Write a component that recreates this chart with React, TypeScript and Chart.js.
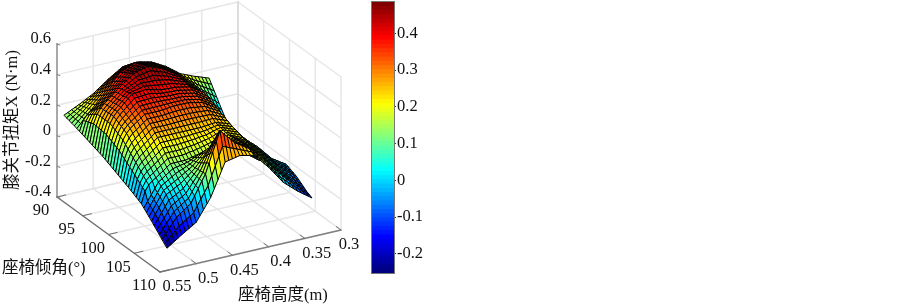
import React, { useEffect, useRef } from "react";
import { Chart, registerables } from "chart.js";

Chart.register(...registerables);

const tiltTicks = [90, 95, 100, 105, 110];
const heightTicks = [0.55, 0.5, 0.45, 0.4, 0.35, 0.3];
const torqueTicks = [-0.4, -0.2, 0, 0.2, 0.4, 0.6];
const colorbarTicks = [-0.2, -0.1, 0, 0.1, 0.2, 0.3, 0.4];
const colorMin = -0.252;
const colorMax = 0.485;
const tiltFirst = 90;
const tiltStep = 0.5;
const heightFirst = 0.54;
const heightStep = -0.005;

// Knee torque X, in thousandths of N·m: one row per seat tilt, one column per seat height.
const torqueRows = [
[125,136,148,159,170,182,195,208,220,238,255,272,290,305,320,335,350,352,355,358,360,355,350,345,340,328,315,302,290,272,255,238,220,210,200,190,180,172,164,155,147],
[120,134,148,162,176,191,206,221,236,255,274,293,312,326,340,354,368,369,370,371,372,365,358,351,344,330,317,303,290,272,253,235,216,202,189,175,162,151,140,129,118],
[115,132,148,165,182,200,217,234,252,272,293,314,334,347,360,373,386,386,385,384,384,375,366,357,348,334,319,304,290,270,251,232,212,195,178,161,144,130,116,102,88],
[110,130,149,168,188,208,228,248,268,290,312,334,356,368,380,392,404,402,400,398,396,385,374,363,352,336,320,305,290,270,249,228,208,188,167,146,126,109,92,76,59],
[105,127,150,172,194,216,239,262,284,308,331,354,378,389,400,411,422,418,415,412,408,395,382,369,356,340,323,306,290,268,246,225,204,180,156,132,108,88,68,49,29],
[100,125,150,175,200,225,250,275,300,325,350,375,400,410,420,430,440,435,430,425,420,405,390,375,360,342,325,308,290,268,245,222,200,172,145,118,90,68,45,22,0],
[94,157,188,207,220,244,268,292,316,340,363,386,410,420,429,438,448,442,436,430,424,409,394,379,364,344,325,306,286,258,231,204,176,148,119,90,62,40,18,-5,-28],
[88,164,202,225,240,263,286,309,332,354,376,398,420,429,438,447,456,449,442,435,428,413,398,383,368,346,325,304,282,250,217,184,152,122,93,64,34,12,-11,-34,-56],
[82,171,216,242,260,282,304,326,348,368,389,410,430,438,447,456,464,456,448,440,432,417,402,387,372,348,325,302,278,240,203,166,128,98,67,36,6,-16,-39,-62,-84],
[76,178,229,260,280,301,322,343,364,383,402,421,440,448,456,464,472,463,454,445,436,421,406,391,376,350,325,300,274,232,189,146,104,72,40,9,-22,-44,-67,-90,-112],
[70,185,242,277,300,320,340,360,380,398,415,432,450,458,465,472,480,470,460,450,440,425,410,395,380,352,325,298,270,222,175,128,80,48,15,-18,-50,-72,-95,-118,-140],
[64,183,242,278,302,322,343,364,384,398,413,428,442,447,452,456,461,453,444,436,428,415,402,389,376,351,326,301,276,226,175,124,74,42,9,-24,-56,-78,-99,-120,-142],
[58,181,242,279,304,325,346,367,388,400,411,422,434,436,438,440,442,436,429,422,416,405,394,383,372,350,327,304,282,228,175,122,68,36,3,-30,-62,-82,-103,-124,-144],
[52,179,242,281,306,328,349,370,392,400,409,418,426,425,424,424,423,418,414,409,404,395,386,377,368,348,328,308,288,232,175,118,62,30,-3,-36,-68,-88,-107,-126,-146],
[46,177,242,282,308,330,352,374,396,402,407,412,418,414,411,408,404,401,398,395,392,385,378,371,364,346,329,312,294,234,175,116,56,24,-9,-42,-74,-92,-111,-130,-148],
[40,175,242,283,310,332,355,378,400,402,405,408,410,404,398,391,385,384,382,381,380,375,370,365,360,345,330,315,300,238,175,112,50,18,-15,-48,-80,-98,-115,-132,-150],
[32,166,233,273,300,322,343,364,386,388,390,392,394,390,385,380,376,375,374,373,372,367,362,357,352,337,322,307,292,230,169,108,46,14,-17,-48,-80,-96,-113,-130,-146],
[24,157,224,263,290,310,331,352,372,374,375,376,378,375,372,370,367,366,366,365,364,359,354,349,344,329,314,299,284,224,163,102,42,12,-19,-50,-80,-96,-111,-126,-142],
[16,148,214,254,280,300,320,339,358,359,360,361,362,361,360,359,358,358,357,356,356,351,346,341,336,321,306,291,276,216,157,98,38,8,-20,-50,-80,-94,-109,-124,-138],
[8,139,204,244,270,288,307,326,344,345,345,346,346,347,348,348,349,349,348,348,348,343,338,333,328,313,298,283,268,210,151,92,34,6,-23,-52,-80,-94,-107,-120,-134],
[0,130,195,234,260,278,295,312,330,330,330,330,330,332,335,338,340,340,340,340,340,335,330,325,320,305,290,275,260,202,145,88,30,2,-25,-52,-80,-92,-105,-118,-130],
[-8,116,178,215,240,258,276,294,312,312,312,312,312,314,316,318,320,320,320,320,320,316,313,310,306,292,279,266,252,198,143,88,34,6,-22,-49,-76,-88,-99,-110,-122],
[-16,102,161,196,220,238,257,276,294,294,294,294,294,296,297,298,300,300,300,300,300,298,296,294,292,280,268,256,244,192,141,90,38,10,-17,-44,-72,-82,-93,-104,-114],
[-24,88,144,178,200,219,238,257,276,276,276,276,276,277,278,279,280,280,280,280,280,280,279,278,278,268,257,246,236,188,139,90,42,14,-13,-40,-68,-78,-87,-96,-106],
[-32,74,127,159,180,200,219,238,258,258,258,258,258,258,259,260,260,260,260,260,260,261,262,263,264,255,246,237,228,182,137,92,46,18,-9,-36,-64,-72,-81,-90,-98],
[-40,60,110,140,160,180,200,220,240,240,240,240,240,240,240,240,240,240,240,240,240,242,245,248,250,242,235,228,220,178,135,92,50,22,-5,-32,-60,-68,-75,-82,-90],
[-49,46,93,121,140,160,179,198,218,218,218,218,218,219,220,221,222,224,225,226,228,232,237,242,246,238,230,222,214,176,138,100,62,35,8,-19,-46,-55,-64,-73,-82],
[-58,31,76,102,120,139,158,177,196,196,196,196,196,198,200,202,204,207,210,213,216,222,229,236,242,234,225,216,208,174,141,108,74,48,21,-5,-32,-42,-53,-64,-74],
[-67,16,58,83,100,118,137,156,174,174,174,174,174,177,180,183,186,190,195,200,204,212,221,230,238,229,220,211,202,173,144,115,86,60,34,8,-18,-30,-42,-54,-66],
[-76,2,41,64,80,98,116,134,152,152,152,152,152,156,160,164,168,174,180,186,192,202,213,224,234,224,215,206,196,172,147,122,98,72,47,22,-4,-18,-31,-44,-58],
[-85,-12,24,46,60,78,95,112,130,130,130,130,130,135,140,145,150,158,165,172,180,192,205,218,230,220,210,200,190,170,150,130,110,85,60,35,10,-5,-20,-35,-50],
[-101,-64,-28,8,45,61,78,94,110,115,120,125,130,140,151,162,172,179,186,193,200,208,216,224,232,220,208,197,185,164,144,123,102,78,54,29,5,-10,-26,-42,-57],
[-118,-81,-44,-7,30,45,60,75,90,100,110,120,130,146,162,179,195,201,208,214,220,224,228,231,235,221,208,194,180,159,138,116,95,71,48,24,0,-16,-32,-49,-65],
[-134,-97,-60,-22,15,29,42,56,70,85,100,115,130,152,174,196,218,224,229,234,240,240,239,238,238,222,206,191,175,153,132,110,88,65,41,18,-5,-22,-39,-55,-72],
[-150,-112,-75,-38,0,12,25,38,50,70,90,110,130,158,185,212,240,245,250,255,260,255,250,245,240,222,205,188,170,148,125,102,80,58,35,12,-10,-28,-45,-62,-80],
[-168,-132,-96,-61,-25,-11,2,16,30,56,82,107,133,170,206,243,280,278,275,272,270,262,255,248,240,221,202,184,165,141,118,94,70,48,25,2,-20,-38,-56,-74,-92],
[-185,-151,-118,-84,-50,-35,-20,-5,10,41,72,104,135,181,228,274,320,310,300,290,280,270,260,250,240,220,200,180,160,135,110,85,60,38,15,-8,-30,-49,-68,-86,-105],
[-202,-170,-138,-107,-75,-59,-42,-26,-10,27,64,101,138,194,249,304,360,342,325,308,290,278,265,252,240,219,198,176,155,129,102,76,50,28,5,-18,-40,-60,-79,-98,-118],
[-220,-190,-160,-130,-100,-82,-65,-48,-30,12,55,98,140,205,270,335,400,375,350,325,300,285,270,255,240,218,195,172,150,122,95,68,40,18,-5,-28,-50,-70,-90,-110,-130],
[-237,-214,-191,-168,-145,-129,-112,-96,-80,-41,-2,36,75,134,192,251,310,300,290,280,270,260,250,240,230,206,182,159,135,106,78,49,20,-1,-22,-44,-65,-83,-102,-120,-138],
[-254,-238,-222,-206,-190,-175,-160,-145,-130,-95,-60,-25,10,62,115,168,220,225,230,235,240,235,230,225,220,195,170,145,120,90,60,30,0,-20,-40,-60,-80,-97,-114,-130,-147],
];

const FONT = '"Liberation Serif", "Noto Sans CJK SC", serif';

function projX(t: number, h: number) {
  return 57 + (103 * (t - 90)) / 20 + (181 * (0.55 - h)) / 0.25;
}
function projY(t: number, h: number, z: number) {
  return 197 + (75 * (t - 90)) / 20 - (42 * (0.55 - h)) / 0.25 - 153 * (z + 0.4);
}

function jet(f: number) {
  const c = (v: number) => Math.round(255 * Math.max(0, Math.min(1, v)));
  const x = Math.max(0, Math.min(63, Math.floor(f * 64))) / 63;
  const r = 1.5 - Math.abs(4 * x - 3);
  const g = 1.5 - Math.abs(4 * x - 2);
  const b = 1.5 - Math.abs(4 * x - 1);
  return `rgb(${c(r)},${c(g)},${c(b)})`;
}

const nodes = torqueRows.flatMap((row, i) =>
  row.map((z, j) => {
    const t = tiltFirst + i * tiltStep;
    const h = heightFirst + j * heightStep;
    return { x: projX(t, h), y: projY(t, h, z / 1000) };
  })
);

const surfacePlugin = {
  id: "surface3d",
  beforeDatasetsDraw(chart: any) {
    const { ctx, scales } = chart;
    const X = (t: number, h: number) => scales.x.getPixelForValue(projX(t, h));
    const Y = (t: number, h: number, z: number) => scales.y.getPixelForValue(projY(t, h, z));
    const seg = (a: number[], b: number[], color: string, w: number) => {
      ctx.strokeStyle = color;
      ctx.lineWidth = w;
      ctx.beginPath();
      ctx.moveTo(X(a[0], a[1]), Y(a[0], a[1], a[2]));
      ctx.lineTo(X(b[0], b[1]), Y(b[0], b[1], b[2]));
      ctx.stroke();
    };
    const tMin = tiltTicks[0], tMax = tiltTicks[tiltTicks.length - 1];
    const hNear = heightTicks[0], hFar = heightTicks[heightTicks.length - 1];
    const zMin = torqueTicks[0], zMax = torqueTicks[torqueTicks.length - 1];
    ctx.save();
    ctx.lineCap = "round";
    const grid = "#e6e6e6";
    for (const z of torqueTicks) {
      seg([tMin, hNear, z], [tMin, hFar, z], grid, 1.4);
      seg([tMin, hFar, z], [tMax, hFar, z], grid, 1.4);
    }
    for (const h of heightTicks) {
      seg([tMin, h, zMin], [tMin, h, zMax], grid, 1.4);
      seg([tMin, h, zMin], [tMax, h, zMin], grid, 1.4);
    }
    for (const t of tiltTicks) {
      seg([t, hFar, zMin], [t, hFar, zMax], grid, 1.4);
      seg([t, hNear, zMin], [t, hFar, zMin], grid, 1.4);
    }
    seg([tMin, hFar, zMin], [tMin, hFar, zMax], "#dddddd", 2);

    // axes
    seg([tMin, hNear, zMin], [tMin, hNear, zMax], "#a8a8a8", 2);
    seg([tMin, hNear, zMin], [tMax, hNear, zMin], "#707070", 1.4);
    seg([tMax, hNear, zMin], [tMax, hFar, zMin], "#808080", 1.4);
    for (const z of torqueTicks) {
      const px = X(tMin, hNear), py = Y(tMin, hNear, z);
      ctx.strokeStyle = "#808080"; ctx.lineWidth = 1;
      ctx.beginPath(); ctx.moveTo(px, py); ctx.lineTo(px + 3, py + 1); ctx.stroke();
    }
    for (const t of tiltTicks) seg([t, hNear, zMin], [t, hNear - 0.012, zMin], "#707070", 1);
    for (const h of heightTicks) seg([tMax, h, zMin], [tMax - 0.9, h, zMin], "#707070", 1);

    // surface, far cells first
    const pts = chart.getDatasetMeta(0).data;
    const rows = torqueRows.length, cols = torqueRows[0].length;
    ctx.lineWidth = 1;
    ctx.lineJoin = "round";
    ctx.strokeStyle = "#000";
    for (let i = 0; i < rows - 1; i++) {
      for (let j = cols - 2; j >= 0; j--) {
        const a = pts[i * cols + j], b = pts[i * cols + j + 1];
        const c = pts[(i + 1) * cols + j + 1], d = pts[(i + 1) * cols + j];
        const z = (torqueRows[i][j] + torqueRows[i][j + 1] + torqueRows[i + 1][j + 1] + torqueRows[i + 1][j]) / 4000;
        ctx.fillStyle = jet((z - colorMin) / (colorMax - colorMin));
        ctx.beginPath();
        ctx.moveTo(a.x, a.y);
        ctx.lineTo(b.x, b.y);
        ctx.lineTo(c.x, c.y);
        ctx.lineTo(d.x, d.y);
        ctx.closePath();
        ctx.fill();
        ctx.stroke();
      }
    }

    // tick labels
    ctx.fillStyle = "#111";
    ctx.font = `16.5px ${FONT}`;
    ctx.textBaseline = "middle";
    ctx.textAlign = "right";
    for (const z of torqueTicks) {
      ctx.fillText(String(z), X(tMin, hNear) - 6, Y(tMin, hNear, z) - 5);
    }
    ctx.textAlign = "center";
    for (const t of tiltTicks) {
      ctx.fillText(String(t), X(t, hNear) - 16, Y(t, hNear, zMin) + 14);
    }
    for (const h of heightTicks) {
      const dx = h === 0.55 ? 17 : h === 0.3 ? 8 : 12;
      ctx.fillText(String(h), X(tMax, h) + dx, Y(tMax, h, zMin) + 15);
    }

    // axis titles
    ctx.font = `16.5px ${FONT}`;
    ctx.textAlign = "left";
    ctx.fillText("座椅倾角(°)", 2, 269);
    ctx.fillText("座椅高度(m)", 238, 296);
    ctx.save();
    ctx.translate(13, 120);
    ctx.rotate(-Math.PI / 2);
    ctx.textAlign = "center";
    ctx.fillText("膝关节扭矩X (N·m)", 0, 0);
    ctx.restore();
    ctx.restore();
  },
};

const barFrame = {
  id: "barFrame",
  afterDraw(chart: any) {
    const { ctx, chartArea: a } = chart;
    ctx.save();
    ctx.strokeStyle = "#777";
    ctx.lineWidth = 1;
    ctx.strokeRect(a.left - 0.5, a.top - 0.5, a.right - a.left + 1, a.bottom - a.top + 1);
    ctx.restore();
  },
};

export default function App() {
  const surfaceRef = useRef<HTMLCanvasElement>(null);
  const barRef = useRef<HTMLCanvasElement>(null);

  useEffect(() => {
    const surface = new Chart(surfaceRef.current!, {
      type: "scatter",
      data: { datasets: [{ data: nodes, pointRadius: 0, showLine: false }] },
      options: {
        animation: false,
        responsive: false,
        layout: { padding: 0 },
        plugins: { legend: { display: false }, tooltip: { enabled: false } },
        scales: {
          x: { type: "linear", min: 0, max: 900, display: false },
          y: { type: "linear", min: 0, max: 308, reverse: true, display: false },
        },
      },
      plugins: [surfacePlugin],
    } as any);

    const levels = Array.from({ length: 64 }, (_, k) => k);
    const span = colorMax - colorMin;
    const bar = new Chart(barRef.current!, {
      type: "bar",
      data: {
        labels: ["colorbar"],
        datasets: levels.map((k) => ({
          data: [[colorMin + (span * k) / 64, colorMin + (span * (k + 1)) / 64]],
          backgroundColor: jet((k + 0.5) / 64),
          borderWidth: 0,
          grouped: false,
          inflateAmount: 0.5,
          barPercentage: 1,
          categoryPercentage: 1,
        })),
      },
      options: {
        animation: false,
        responsive: false,
        layout: { padding: { left: 12, top: 2, bottom: 35, right: 0 } },
        plugins: { legend: { display: false }, tooltip: { enabled: false } },
        scales: {
          x: { display: false },
          y: {
            type: "linear",
            position: "right",
            min: colorMin,
            max: colorMax,
            border: { display: false },
            grid: { drawOnChartArea: false, drawTicks: true, tickLength: 2, tickColor: "#333" },
            ticks: {
              color: "#111",
              padding: 1,
              font: { family: FONT, size: 16.5 },
              callback: (v: any) => String(v),
            },
            afterBuildTicks: (s: any) => {
              s.ticks = colorbarTicks.map((value) => ({ value }));
            },
            afterFit: (s: any) => {
              s.width = 56;
              s.paddingTop = 0;
              s.paddingBottom = 0;
            },
          },
        },
      },
      plugins: [barFrame],
    } as any);

    return () => {
      surface.destroy();
      bar.destroy();
    };
  }, []);

  return (
    <div style={{ position: "absolute", left: 0, top: 0, width: 900, height: 308, overflow: "hidden", background: "#fff" }}>
      <canvas ref={surfaceRef} width={900} height={308} style={{ position: "absolute", left: 0, top: 0 }} />
      <canvas ref={barRef} width={90} height={308} style={{ position: "absolute", left: 360, top: 0 }} />
    </div>
  );
}
